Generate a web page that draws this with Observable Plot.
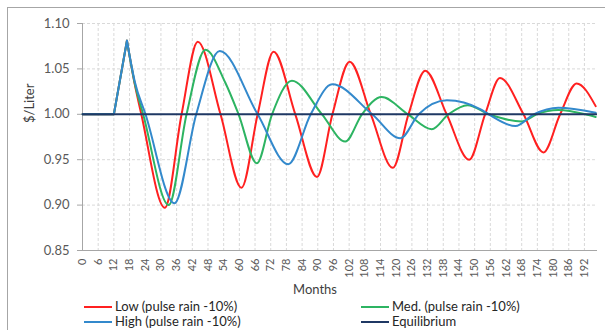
<!DOCTYPE html>
<html><head><meta charset="utf-8">
<script src="https://cdn.jsdelivr.net/npm/d3@7"></script>
<script src="https://cdn.jsdelivr.net/npm/@observablehq/plot@0.6"></script>
<style>
body{margin:0;background:#fff;}
#chart{position:relative;width:605px;height:330px;overflow:hidden;font-family:Lato,"Open Sans",sans-serif;background:#fff;}
#border{position:absolute;left:7px;top:7px;width:700px;height:400px;border:1px solid #a6a6a6;}
#plotwrap{position:absolute;left:0;top:0;}
.leg{position:absolute;font-size:13px;color:#262626;white-space:nowrap;line-height:15px;}
.sw{display:inline-block;width:28px;height:0;border-top:2px solid;vertical-align:middle;margin-right:3px;position:relative;top:-1px;}
</style></head><body>
<div id="chart"><div id="border"></div><div id="plotwrap"></div></div>
<script>
// ---- data ----
const xTicks = [0,6,12,18,24,30,36,42,48,54,60,66,72,78,84,90,96,102,108,114,120,126,132,138,144,150,156,162,168,174,180,186,192];
const yTicks = [0.85,0.90,0.95,1.00,1.05,1.10];
const equilibrium = 1.00;

// shared pulse at the start (months, $/L)
const rampMonths = [0, 12, 17];
const rampValues = [1.00, 1.00, 1.081];

const lowMonths  = [17, 20, 22.5, 31.5, 37.9, 44.1, 52.8, 60.8, 67, 73.1, 81.4, 89.7, 95.6, 102.2, 110.3, 118.7, 124.7, 131.1, 139.3, 147.9, 154, 159.7, 168.7, 176.3, 182.7, 189, 196.3];
const lowValues  = [1.081, 1.033, 1.000, 0.897, 1.000, 1.080, 1.000, 0.919, 1.000, 1.069, 1.000, 0.931, 1.000, 1.058, 1.000, 0.941, 1.000, 1.048, 1.000, 0.950, 1.000, 1.040, 1.000, 0.958, 1.000, 1.034, 1.009];

const medMonths  = [17, 20, 23.2, 33, 39.8, 47, 54.6, 59.7, 66.7, 72.5, 80.1, 91.6, 100.5, 106.9, 114.4, 124.5, 133.6, 140, 147.3, 155.5, 168, 173.7, 182, 192.4, 196.3];
const medValues  = [1.081, 1.034, 1.000, 0.900, 1.000, 1.071, 1.035, 1.000, 0.946, 1.000, 1.037, 1.000, 0.970, 1.000, 1.019, 1.000, 0.9835, 1.000, 1.010, 1.000, 0.992, 1.000, 1.0047, 1.000, 0.997];

const highMonths = [17, 20, 24.1, 35.2, 43.5, 52.5, 67, 78.7, 87.3, 95.5, 110.8, 121.6, 128.6, 139.4, 152.3, 155.4, 165.6, 172.6, 182, 196.3];
const highValues = [1.081, 1.036, 1.000, 0.902, 1.000, 1.0696, 1.000, 0.945, 1.000, 1.033, 1.000, 0.9736, 1.000, 1.0154, 1.0055, 1.000, 0.987, 1.000, 1.0073, 1.0018];

const seriesNames = ["Low (pulse rain -10%)", "Med. (pulse rain -10%)", "High (pulse rain -10%)", "Equilibrium"];

// ---- styles ----
const colors = {low:"#ff2020", med:"#2db462", high:"#3389cc", eq:"#1f3864"};

const toRows = (ms, vs) => ms.map((m, i) => ({month: m, value: vs[i]}));
const ramp = toRows(rampMonths, rampValues);
const low = toRows(lowMonths, lowValues);
const med = toRows(medMonths, medValues);
const high = toRows(highMonths, highValues);

const lineOpts = (c, curve) => ({x: "month", y: "value", stroke: c, strokeWidth: 2, curve});

const plot = Plot.plot({
  width: 605, height: 300,
  marginLeft: 82, marginRight: 8, marginTop: 23, marginBottom: 50,
  style: {background: "transparent", fontFamily: "Lato, 'Open Sans', sans-serif", overflow: "visible"},
  x: {domain: [0, 197]},
  y: {domain: [0.85, 1.10]},
  marks: [
    Plot.ruleX(xTicks.filter(d => d > 0), {stroke: "#d9d9d9", strokeDasharray: "3,2"}),
    Plot.ruleY(yTicks.filter(d => d > 0.85), {stroke: "#d9d9d9", strokeDasharray: "3,2"}),
    Plot.ruleX([0], {stroke: "#a6a6a6"}),
    Plot.ruleY([0.85], {stroke: "#a6a6a6"}),
    Plot.axisY({ticks: yTicks, tickFormat: d3.format(".2f"), tickSize: 5, tickPadding: 8, fontSize: 13, color: "#595959", stroke: "#a6a6a6", label: null}),
    Plot.axisX({ticks: xTicks, tickFormat: d => String(d), tickRotate: -90, tickSize: 0, tickPadding: 8, fontSize: 11, color: "#595959", label: null}),
    Plot.line(ramp, lineOpts(colors.low, "linear")),
    Plot.line(low, lineOpts(colors.low, "monotone-x")),
    Plot.line(ramp, lineOpts(colors.med, "linear")),
    Plot.line(med, lineOpts(colors.med, "monotone-x")),
    Plot.line(ramp, lineOpts(colors.high, "linear")),
    Plot.line(high, lineOpts(colors.high, "monotone-x")),
    Plot.ruleY([equilibrium], {stroke: colors.eq, strokeWidth: 2}),
    Plot.text(["$/Liter"], {frameAnchor: "left", rotate: -90, dx: -53, dy: -14, fontSize: 13, fill: "#404040"}),
    Plot.text(["Months"], {frameAnchor: "bottom", dx: -25, dy: 43, fontSize: 13, fill: "#404040"})
  ]
});
document.getElementById("plotwrap").appendChild(plot);

// ---- legend (below the SVG) ----
const legendItems = [
  {name: seriesNames[0], color: colors.low,  left: 84,  top: 299},
  {name: seriesNames[1], color: colors.med,  left: 361, top: 299},
  {name: seriesNames[2], color: colors.high, left: 84,  top: 314},
  {name: seriesNames[3], color: colors.eq,   left: 361, top: 314}
];
const chart = document.getElementById("chart");
for (const it of legendItems) {
  const d = document.createElement("div");
  d.className = "leg";
  d.style.left = it.left + "px";
  d.style.top = it.top + "px";
  const sw = document.createElement("span");
  sw.className = "sw";
  sw.style.borderTopColor = it.color;
  d.appendChild(sw);
  d.appendChild(document.createTextNode(it.name));
  chart.appendChild(d);
}
</script>
</body></html>
